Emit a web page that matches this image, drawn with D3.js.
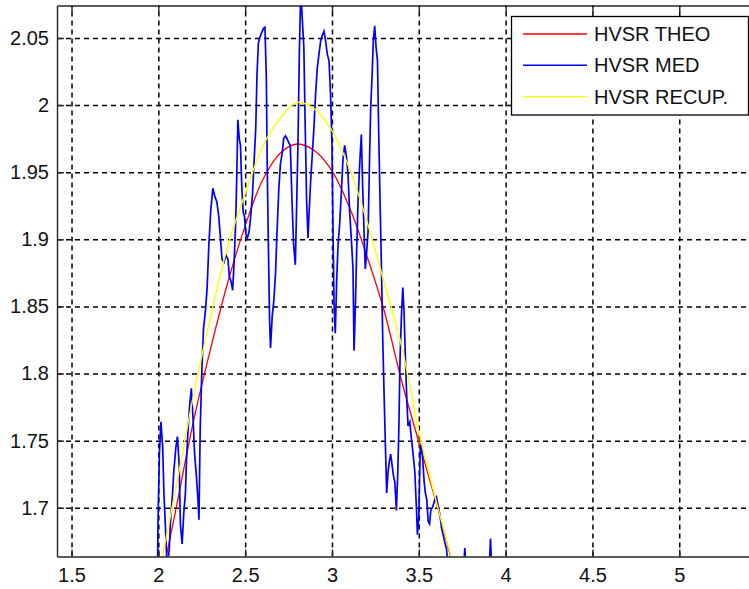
<!DOCTYPE html>
<html>
<head>
<meta charset="utf-8">
<script src="https://cdn.jsdelivr.net/npm/d3@7"></script>
<style>
  body { margin: 0; background: #fff; overflow: hidden; }
  text { font-family: "Liberation Sans", Arial, sans-serif; font-size: 20px; fill: #111; }
  .grid line { stroke: #000; stroke-width: 1.5; stroke-dasharray: 5,4; }
  .grid path { display: none; }
  .axis path, .axis line { stroke: #262626; stroke-width: 1.4; }
</style>
</head>
<body>
<svg width="749" height="589"></svg>
<script>
// Ticks
var xTicks = [1.5, 2, 2.5, 3, 3.5, 4, 4.5, 5];
var xTickLabels = ["1.5", "2", "2.5", "3", "3.5", "4", "4.5", "5"];
var yTicks = [1.7, 1.75, 1.8, 1.85, 1.9, 1.95, 2, 2.05];
var yTickLabels = ["1.7", "1.75", "1.8", "1.85", "1.9", "1.95", "2", "2.05"];

// HVSR THEO (red)
var theoX = [2.0, 2.1, 2.2, 2.3, 2.4, 2.5, 2.6, 2.7, 2.8, 2.9, 3.0, 3.1, 3.2, 3.3, 3.4, 3.5, 3.6, 3.7];
var theoY = [1.635, 1.698, 1.763, 1.818, 1.868, 1.910, 1.944, 1.964, 1.971, 1.966, 1.951, 1.924, 1.888, 1.847, 1.795, 1.749, 1.704, 1.655];

// HVSR RECUP. (yellow)
var recupX = [2.0, 2.1, 2.2, 2.3, 2.4, 2.5, 2.6, 2.7, 2.8, 2.9, 3.0, 3.1, 3.2, 3.3, 3.4, 3.5, 3.6, 3.7];
var recupY = [1.648, 1.714, 1.782, 1.842, 1.895, 1.934, 1.969, 1.990, 2.002, 1.997, 1.981, 1.953, 1.914, 1.868, 1.821, 1.757, 1.705, 1.657];

// HVSR MED (blue)
var medX = [1.994, 1.998, 2.006, 2.015, 2.025, 2.032, 2.040, 2.051, 2.063, 2.070, 2.082, 2.089, 2.101, 2.110, 2.120, 2.127,
  2.137, 2.146, 2.156, 2.162, 2.171, 2.181, 2.190, 2.200, 2.209, 2.219, 2.228, 2.234, 2.241, 2.251, 2.260, 2.272,
  2.281, 2.291, 2.302, 2.314, 2.325, 2.337, 2.348, 2.357, 2.367, 2.378, 2.390, 2.401, 2.409, 2.418, 2.428, 2.437,
  2.445, 2.451, 2.458, 2.466, 2.473, 2.481, 2.489, 2.496, 2.504, 2.513, 2.523, 2.532, 2.542, 2.553, 2.561, 2.568,
  2.576, 2.586, 2.595, 2.605, 2.614, 2.622, 2.627, 2.633, 2.641, 2.646, 2.656, 2.665, 2.675, 2.683, 2.694, 2.703,
  2.713, 2.722, 2.732, 2.741, 2.751, 2.760, 2.770, 2.779, 2.789, 2.797, 2.804, 2.812, 2.820, 2.838, 2.846, 2.854,
  2.862, 2.869, 2.877, 2.887, 2.896, 2.906, 2.915, 2.925, 2.935, 2.944, 2.954, 2.963, 2.973, 2.983, 2.992, 3.000,
  3.006, 3.012, 3.019, 3.027, 3.035, 3.044, 3.054, 3.063, 3.073, 3.083, 3.092, 3.102, 3.112, 3.121, 3.127, 3.135,
  3.142, 3.150, 3.160, 3.169, 3.177, 3.185, 3.192, 3.200, 3.208, 3.217, 3.223, 3.231, 3.238, 3.246, 3.254, 3.262,
  3.269, 3.277, 3.285, 3.292, 3.300, 3.308, 3.315, 3.323, 3.331, 3.338, 3.346, 3.354, 3.362, 3.371, 3.379, 3.385,
  3.392, 3.400, 3.408, 3.415, 3.423, 3.431, 3.438, 3.448, 3.458, 3.467, 3.477, 3.487, 3.492, 3.500, 3.508, 3.515,
  3.523, 3.531, 3.538, 3.546, 3.554, 3.562, 3.569, 3.581, 3.592, 3.602, 3.612, 3.621, 3.631, 3.640, 3.650, 3.660,
  3.669, 3.688, 3.727, 3.754, 3.765, 3.777, 3.823, 3.881, 3.904, 3.913, 3.923, 3.977];
var medY = [1.640, 1.688, 1.740, 1.764, 1.745, 1.711, 1.688, 1.655, 1.669, 1.690, 1.711, 1.727, 1.745, 1.753, 1.732, 1.688,
  1.673, 1.695, 1.711, 1.735, 1.758, 1.777, 1.789, 1.766, 1.740, 1.724, 1.706, 1.691, 1.758, 1.804, 1.833, 1.848,
  1.864, 1.896, 1.922, 1.938, 1.932, 1.928, 1.917, 1.902, 1.885, 1.883, 1.888, 1.885, 1.872, 1.869, 1.862, 1.885,
  1.911, 1.943, 1.989, 1.975, 1.970, 1.938, 1.920, 1.917, 1.904, 1.901, 1.906, 1.917, 1.933, 1.962, 1.983, 2.022,
  2.046, 2.051, 2.054, 2.057, 2.058, 2.020, 1.956, 1.901, 1.838, 1.819, 1.843, 1.854, 1.875, 1.904, 1.938, 1.956,
  1.964, 1.975, 1.977, 1.975, 1.972, 1.970, 1.928, 1.896, 1.881, 1.928, 1.970, 2.038, 2.085, 2.043, 1.983, 1.928,
  1.901, 1.922, 1.943, 1.964, 1.983, 2.009, 2.027, 2.038, 2.048, 2.052, 2.055, 2.048, 2.038, 2.033, 2.007, 1.970,
  1.906, 1.851, 1.830, 1.869, 1.896, 1.911, 1.935, 1.959, 1.970, 1.962, 1.949, 1.920, 1.899, 1.878, 1.817, 1.851,
  1.891, 1.928, 1.957, 1.978, 1.938, 1.904, 1.878, 1.891, 1.906, 1.964, 1.998, 2.022, 2.048, 2.059, 2.043, 2.033,
  1.980, 1.928, 1.878, 1.828, 1.785, 1.745, 1.711, 1.727, 1.735, 1.740, 1.732, 1.724, 1.719, 1.698, 1.727, 1.758,
  1.811, 1.843, 1.864, 1.846, 1.811, 1.780, 1.761, 1.764, 1.751, 1.740, 1.727, 1.698, 1.680, 1.693, 1.743, 1.748,
  1.735, 1.719, 1.711, 1.706, 1.690, 1.688, 1.698, 1.701, 1.706, 1.708, 1.701, 1.695, 1.685, 1.680, 1.674, 1.669,
  1.655, 1.640, 1.630, 1.645, 1.670, 1.645, 1.630, 1.640, 1.650, 1.677, 1.645, 1.630];

var legendText = ["HVSR THEO", "HVSR MED", "HVSR RECUP."];
var legendColors = ["#ff0000", "#0000ff", "#ffff00"];

var svg = d3.select("svg");
var mLeft = 57, mRight = 760, mTop = 5.5, mBottom = 556.5;

var x = d3.scaleLinear().domain([1.4164, 5.465]).range([mLeft, mRight]);
var y = d3.scaleLinear().domain([1.6637, 2.0742]).range([mBottom, mTop]);

svg.append("defs").append("clipPath").attr("id", "clip")
  .append("rect")
  .attr("x", mLeft).attr("y", mTop)
  .attr("width", mRight - mLeft).attr("height", mBottom - mTop);

// grid
svg.append("g")
  .attr("class", "grid")
  .attr("transform", "translate(0," + mBottom + ")")
  .call(d3.axisBottom(x).tickValues(xTicks).tickSize(-(mBottom - mTop)).tickFormat(""));

svg.append("g")
  .attr("class", "grid")
  .attr("transform", "translate(" + mLeft + ",0)")
  .call(d3.axisLeft(y).tickValues(yTicks).tickSize(-(mRight - mLeft)).tickFormat(""));

// lines
function makeLine(xs, ys, curve) {
  return d3.line()
    .x(function(d, i) { return x(xs[i]); })
    .y(function(d, i) { return y(ys[i]); })
    .curve(curve)(xs);
}

var plot = svg.append("g").attr("clip-path", "url(#clip)");

plot.append("path")
  .attr("d", makeLine(theoX, theoY, d3.curveCatmullRom))
  .attr("fill", "none")
  .attr("stroke", legendColors[0])
  .attr("stroke-width", 1.3);

plot.append("path")
  .attr("d", makeLine(medX, medY, d3.curveLinear))
  .attr("fill", "none")
  .attr("stroke", legendColors[1])
  .attr("stroke-width", 1.7);

plot.append("path")
  .attr("d", makeLine(recupX, recupY, d3.curveCatmullRom))
  .attr("fill", "none")
  .attr("stroke", legendColors[2])
  .attr("stroke-width", 1.4);

// axes
svg.append("g")
  .attr("class", "axis")
  .attr("transform", "translate(0," + mBottom + ")")
  .call(d3.axisBottom(x).tickValues(xTicks).tickSizeInner(-7).tickSizeOuter(0).tickPadding(11)
    .tickFormat(function(d, i) { return xTickLabels[i]; }));

svg.append("g")
  .attr("class", "axis")
  .attr("transform", "translate(" + mLeft + ",0)")
  .call(d3.axisLeft(y).tickValues(yTicks).tickSizeInner(-7).tickSizeOuter(0).tickPadding(8)
    .tickFormat(function(d, i) { return yTickLabels[i]; }));

svg.append("g")
  .attr("class", "axis")
  .attr("transform", "translate(0," + mTop + ")")
  .call(d3.axisTop(x).tickValues(xTicks).tickSizeInner(-7).tickSizeOuter(0).tickFormat(""));

svg.selectAll(".axis text").style("font-size", "20px").attr("fill", "#111");

// legend
var legend = svg.append("g").attr("id", "legend");

legend.append("rect")
  .attr("x", 511.5).attr("y", 16.5)
  .attr("width", 237).attr("height", 98.5)
  .attr("fill", "#fff")
  .attr("stroke", "#000")
  .attr("stroke-width", 1.3);

var legenditem = legend.selectAll(".legenditem")
  .data(legendText)
  .enter()
  .append("g")
  .attr("class", "legenditem")
  .attr("transform", function(d, i) { return "translate(0," + (34 + i * 31.3) + ")"; });

legenditem.append("line")
  .attr("x1", 523).attr("x2", 587)
  .attr("stroke", function(d, i) { return legendColors[i]; })
  .attr("stroke-width", 1.4);

legenditem.append("text")
  .attr("x", 594)
  .attr("dy", "0.35em")
  .text(function(d) { return d; });
</script>
</body>
</html>
